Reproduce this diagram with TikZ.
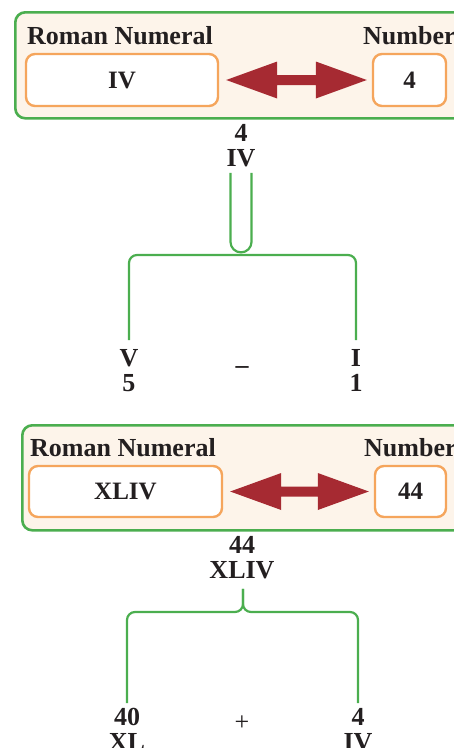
\documentclass[tikz,border=0pt]{standalone}
\usepackage{fontspec}
\setmainfont{Liberation Serif}
\usetikzlibrary{calc}
\definecolor{grn}{HTML}{4BAE4F}
\definecolor{org}{HTML}{F5A55C}
\definecolor{dred}{HTML}{A62A32}
\definecolor{cream}{HTML}{FDF4EA}
\definecolor{txt}{HTML}{231F20}
\tikzset{
 panel/.style={draw=grn, line width=2.6pt, fill=cream, rounded corners=10pt, anchor=north west, inner sep=0pt},
 valbox/.style={draw=org, line width=2.4pt, fill=white, rounded corners=9pt, inner sep=0pt, font=\fontsize{25}{28}\selectfont\bfseries, text=txt},
 hdr/.style={anchor=base west, inner sep=0pt, font=\fontsize{26}{30}\selectfont\bfseries, text=txt},
 lbl/.style={anchor=north, inner sep=0pt, align=center, font=\fontsize{26}{25}\selectfont\bfseries, text=txt},
 op/.style={inner sep=0pt, font=\fontsize{26}{30}\selectfont, text=txt},
 conn/.style={draw=grn, line width=2.2pt},
 brace/.style={conn, rounded corners=8pt},
}
\newcommand{\dblarrow}[3]{%
 \fill[dred] let \p1=($(#1.east)+(7,0)$), \p2=($(#2.west)+(-5,0)$) in
  (\x1,\y1) -- (\x1+51pt,\y1+18.5pt) -- (\x1+51pt,\y1+5pt) -- (\x2-51pt,\y1+5pt)
  -- (\x2-51pt,\y1+18.5pt) -- (\x2,\y1) -- (\x2-51pt,\y1-18.5pt) -- (\x2-51pt,\y1-5pt)
  -- (\x1+51pt,\y1-5pt) -- (\x1+51pt,\y1-18.5pt) -- cycle;}
\begin{document}
\begin{tikzpicture}[x=1pt,y=-1pt]
\useasboundingbox (0,0) rectangle (454,748);
\clip (0,0) rectangle (454,748);
% ---------- first panel ----------
\node[panel, minimum width=480pt, minimum height=106pt] (p1) at (14,11) {};
\node[hdr] (h1a) at (27,44) {Roman Numeral};
\node[hdr] (h1b) at (363,44) {Number};
\node[valbox, minimum width=192pt, minimum height=52pt] (r1) at (122,80) {IV};
\node[valbox, minimum width=73pt, minimum height=52pt] (n1) at (409.5,80) {4};
\dblarrow{r1}{n1}{}
% labels
\node[lbl] (t1) at (241,124) {4\\IV};
\node[lbl] (t2) at (129,349) {V\\5};
\node[lbl] (t3) at (356,349) {I\\1};
\node[op] (m1) at (242,370) {\bfseries –};
\coordinate (b1) at (242,255);
\draw[conn] ($(t1.south)+(-10.5,6)$) -- ++(0,69) arc[start angle=180, end angle=360, radius=10.5pt] -- ($(t1.south)+(10.5,6)$);
\draw[brace] ($(t2.north)+(0,-9)$) |- (b1) -| ($(t3.north)+(0,-9)$);
% ---------- second panel ----------
\node[panel, minimum width=480pt, minimum height=105pt] (p2) at (21,424) {};
\node[hdr] (h2a) at (30,456) {Roman Numeral};
\node[hdr] (h2b) at (364,456) {Number};
\node[valbox, minimum width=193pt, minimum height=51pt] (r2) at (125.5,491.5) {XLIV};
\node[valbox, minimum width=71pt, minimum height=51pt] (n2) at (410.5,491.5) {44};
\dblarrow{r2}{n2}{}
\node[lbl] (t4) at (242,536) {44\\XLIV};
\node[lbl] (t5) at (127,708) {40\\XL};
\node[lbl] (t6) at (358,708) {4\\IV};
\node[op] (m2) at (242,723) {+};
\coordinate (b2) at (243,612);
\draw[brace] ($(t4.south)+(1,10)$) -- (b2) -| ($(t5.north)+(0,-5)$);
\draw[brace] ($(t4.south)+(1,10)$) -- (b2) -| ($(t6.north)+(0,-5)$);
\end{tikzpicture}
\end{document}
